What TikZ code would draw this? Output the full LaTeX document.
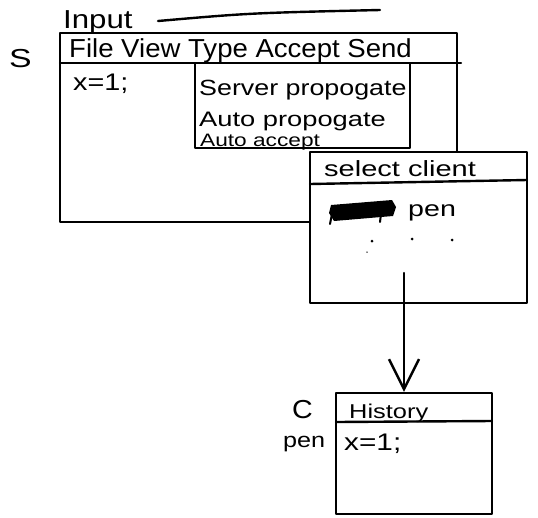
\documentclass[tikz,border=0pt]{standalone}
\usepackage{fontspec}
\setmainfont{Liberation Sans}
\usetikzlibrary{arrows.meta}
\begin{document}
\begin{tikzpicture}[x=1pt,y=-1pt,line width=2.4pt,line join=round,line cap=round,
  win/.style={draw=black,fill=white,rectangle,inner sep=0pt,line width=2.4pt},
  hw/.style={anchor=base west,inner sep=0pt,font=\fontsize{#1}{#1}\selectfont},
  hw/.default=22,
  arr/.style={-{Straight Barb[length=30pt,width=30pt,line width=2.4pt]}},
  dotmark/.style={fill=black,circle,inner sep=0pt,minimum size=3pt}]
\useasboundingbox (0,0) rectangle (538,517);

% heading underline (title above is cut off)
\draw (158,21) .. controls (250,13) .. (380,10);
\node[hw=26] (input) at (62,28) {\scalebox{1.2}[1]{Input}};
\node[hw=26] (slabel) at (8,67) {\scalebox{1.3}[1]{S}};

% main server window
\node[win,minimum width=397pt,minimum height=189pt] (main) at (258.5,127.5) {};
\coordinate (mb1) at (60,63);
\coordinate (mb2) at (461,63);
\draw (mb1) -- (mb2);
\node[hw=26] (menu) at (68,57) {\scalebox{1.06}[1]{File View Type Accept Send}};
\node[hw=24] (code1) at (72,90) {\scalebox{1.2}[1]{x=1;}};

% dropdown of "Type"
\node[win,minimum width=215pt,minimum height=85pt] (drop) at (302.5,105.5) {};
\node[hw=22] (opt1) at (198,95) {\scalebox{1.22}[1]{Server propogate}};
\node[hw=21] (opt2) at (198,126) {\scalebox{1.3}[1]{Auto propogate}};
\node[hw=18] (opt3) at (199,146) {\scalebox{1.26}[1]{Auto accept}};

% select client window
\node[win,minimum width=217pt,minimum height=151pt] (sel) at (418.5,227.5) {};
\coordinate (st1) at (310,184);
\coordinate (st2) at (527,180);
\draw (st1) -- (st2);
\node[hw=22] (seltitle) at (323,176) {\scalebox{1.32}[1]{select client}};
% crossed-out word
\fill[black] (331,205) -- (392,200) -- (396,207) -- (393,216) -- (334,221) -- (329,213) -- cycle;
\draw[line width=2pt] (330,224) -- (332,214);
\draw[line width=2pt] (380,222) -- (381,214);
\node[hw=22] (pen1) at (407,216) {\scalebox{1.3}[1]{pen}};
\node[dotmark] (d1) at (372,241) {};
\node[dotmark] (d2) at (412,239) {};
\node[dotmark] (d3) at (452,240) {};
\node[dotmark,minimum size=1.5pt] (d4) at (367,252) {};

% history window (client)
\node[win,minimum width=156pt,minimum height=121pt] (hist) at (414,453.5) {};
\coordinate (ht1) at (336,422);
\coordinate (ht2) at (492,421);
\draw (ht1) -- (ht2);
\node[hw=20] (histtitle) at (348,418) {\scalebox{1.27}[1]{History}};
\node[hw=24] (code2) at (343,450) {\scalebox{1.24}[1]{x=1;}};
\node[hw=26] (clabel) at (291,418) {\scalebox{1.1}[1]{C}};
\node[hw=21] (pen2) at (282,447) {\scalebox{1.2}[1]{pen}};

% connector
\coordinate (ast) at (404,273);
\draw[arr] (ast) -- (hist.north -| ast);
\end{tikzpicture}
\end{document}
